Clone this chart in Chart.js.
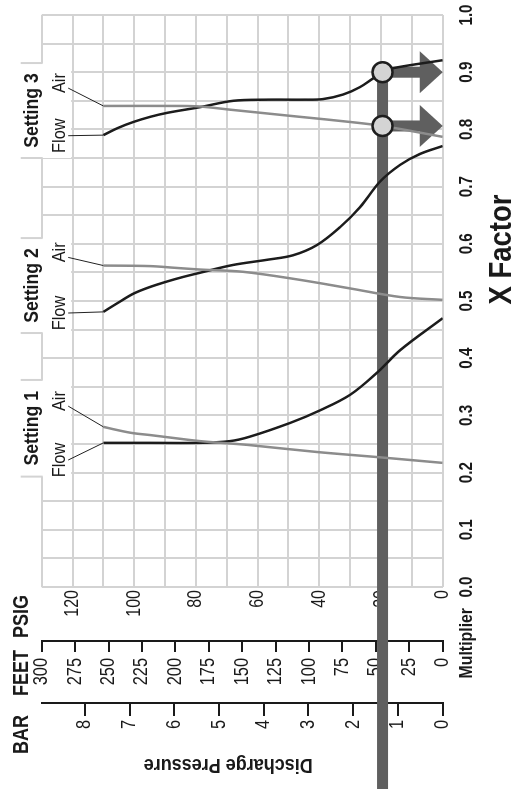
<!DOCTYPE html>
<html><head><meta charset="utf-8">
<script src="https://cdn.jsdelivr.net/npm/chart.js@4/dist/chart.umd.min.js"></script>
<style>
html,body{margin:0;padding:0;background:#fff;overflow:hidden;width:514px;height:789px;}
#wrap{position:absolute;left:0;top:0;width:789px;height:514px;transform-origin:0 0;transform:translateY(789px) rotate(-90deg);}
canvas{display:block;}
</style></head><body>
<div id="wrap"><canvas id="c" width="789" height="514"></canvas></div>
<script>
// ---------- data (X Factor vs discharge pressure in PSIG) ----------
const s1FlowPsi = [110, 95, 79, 69, 62.4, 49.4, 39.7, 30, 21, 13.8, 0];
const s1FlowX   = [0.252, 0.252, 0.252, 0.255, 0.263, 0.287, 0.309, 0.336, 0.376, 0.414, 0.470];
const s1AirPsi  = [110, 105.6, 100.4, 94.9, 89.4, 78.6, 67.9, 62.4, 40.7, 20.9, 0];
const s1AirX    = [0.280, 0.2745, 0.269, 0.2657, 0.262, 0.255, 0.2505, 0.248, 0.236, 0.227, 0.217];

const s2FlowPsi = [110, 105.2, 100.2, 94.9, 89.4, 84.2, 78.6, 68.0, 57.0, 48.5, 40.7, 33.3, 26.8, 20.3, 13.8, 7.4, 0];
const s2FlowX   = [0.481, 0.497, 0.513, 0.5245, 0.534, 0.542, 0.5495, 0.563, 0.572, 0.580, 0.598, 0.629, 0.664, 0.709, 0.738, 0.757, 0.771];
const s2AirPsi  = [110, 94.8, 86.7, 78.6, 64.6, 46.3, 30.0, 13.8, 0];
const s2AirX    = [0.562, 0.561, 0.558, 0.555, 0.551, 0.537, 0.522, 0.507, 0.502];

const s3FlowPsi = [110, 105.5, 100.3, 94.8, 89.3, 78.6, 67.9, 56.9, 45, 38.8, 32.3, 26.8, 22.6, 19.5, 16.1, 0];
const s3FlowX   = [0.790, 0.802, 0.813, 0.822, 0.829, 0.839, 0.850, 0.852, 0.852, 0.853, 0.861, 0.874, 0.889, 0.900, 0.907, 0.921];
const s3AirPsi  = [110, 85.1, 78.6, 68.0, 46.3, 30.0, 19.5, 0];
const s3AirX    = [0.841, 0.841, 0.840, 0.834, 0.822, 0.813, 0.806, 0.787];

// reading example: 45 ft / 19.5 psig, read X factor of Setting 3 Air and Flow
const readPsi = 19.5;
const readX   = [0.806, 0.900];

// tick labels
const xTickLabels = ['0.0','0.1','0.2','0.3','0.4','0.5','0.6','0.7','0.8','0.9','1.0'];
const psigTicks = [0, 20, 40, 60, 80, 100, 120];
const feetTicks = [0, 25, 50, 75, 100, 125, 150, 175, 200, 225, 250, 275, 300];
const barTicks  = [0, 1, 2, 3, 4, 5, 6, 7, 8];

// annotation labels
const settingNames = ['Setting 1', 'Setting 2', 'Setting 3'];
const settingTabs  = [[0.193, 0.362], [0.444, 0.610], [0.750, 0.916]];
const flowLabelX   = [0.222, 0.479, 0.789];
const airLabelX    = [0.325, 0.585, 0.881];

// ---------- styles ----------
const SANS = "'Liberation Sans', Arial, sans-serif";
const GRID = '#d3d3d3';
const INK = '#1a1a1a';
const FLOW_C = '#1c1c1c';
const AIR_C = '#8c8c8c';
const BAR_C = '#5f5f5f';
Chart.defaults.font.family = SANS;
Chart.defaults.color = INK;

// condensed text (Helvetica-Condensed look): Liberation Sans squeezed horizontally
function txt(ctx, s, x, y, o) {
  ctx.save();
  ctx.translate(x, y);
  if (o.rot) ctx.rotate(o.rot);
  ctx.scale(o.sx || 0.82, 1);
  ctx.font = (o.bold ? 'bold ' : '') + o.size + 'px ' + SANS;
  ctx.textAlign = o.align || 'center';
  ctx.textBaseline = o.base || 'alphabetic';
  ctx.fillStyle = o.color || INK;
  ctx.fillText(s, 0, 0);
  ctx.restore();
}

const zip = (xs, ys) => xs.map((x, i) => ({x: x, y: ys[i]}));
const flows = [[s1FlowX, s1FlowPsi], [s2FlowX, s2FlowPsi], [s3FlowX, s3FlowPsi]];
const airs  = [[s1AirX, s1AirPsi], [s2AirX, s2AirPsi], [s3AirX, s3AirPsi]];

function ds(label, xs, ys, color) {
  return {label, data: zip(xs, ys), showLine: true, borderColor: color, backgroundColor: color,
          borderWidth: 2.5, pointRadius: 0, tension: 0.35, fill: false};
}
const datasets = [];
airs.forEach((a, i) => datasets.push(ds(settingNames[i] + ' Air', a[0], a[1], AIR_C)));
flows.forEach((f, i) => datasets.push(ds(settingNames[i] + ' Flow', f[0], f[1], FLOW_C)));

const decor = {
  id: 'decor',
  beforeDraw(c) {
    const ctx = c.ctx; ctx.save(); ctx.fillStyle = '#fff'; ctx.fillRect(0, 0, c.width, c.height); ctx.restore();
  },
  beforeDatasetsDraw(c) {
    const ctx = c.ctx, sc = c.scales, xs = sc.x, ys = sc.y, ca = c.chartArea;
    const X = v => xs.getPixelForValue(v), Y = v => ys.getPixelForValue(v);
    ctx.save();
    // tabs for setting labels
    const bandBottom = Y(120) - 1.4;
    settingTabs.forEach(([a, b]) => {
      const xa = X(a), xb = X(b);
      ctx.fillStyle = '#fff';
      ctx.fillRect(xa, ca.top - 3, xb - xa, bandBottom - (ca.top - 3));
      ctx.strokeStyle = GRID; ctx.lineWidth = 2;
      [xa, xb].forEach(x => { ctx.beginPath(); ctx.moveTo(x, ca.top - 21); ctx.lineTo(x, ca.top + 1); ctx.stroke(); });
    });
    // tick labels from the scales
    xs.ticks.forEach((t, i) => {
      if (i % 2 === 0) txt(ctx, xTickLabels[i / 2], X(t.value), xs.top + 29, {size: 19, bold: true, sx: 0.8});
    });
    ys.ticks.forEach(t => {
      if (psigTicks.includes(t.value)) txt(ctx, String(t.value), ys.right - 3, Y(t.value), {size: 20, sx: 0.8, align: 'right', base: 'middle'});
    });
    sc.feet.ticks.forEach(t => {
      if (feetTicks.includes(t.value)) txt(ctx, String(t.value), sc.feet.right - 17, sc.feet.getPixelForValue(t.value), {size: 20, sx: 0.82, align: 'right', base: 'middle'});
    });
    sc.bar.ticks.forEach(t => {
      if (barTicks.includes(t.value)) txt(ctx, String(t.value), sc.bar.right - 17, sc.bar.getPixelForValue(t.value), {size: 20, sx: 0.82, align: 'right', base: 'middle'});
    });
    // axis headers and titles
    txt(ctx, 'PSIG', ys.right - 8, ca.top - 14, {size: 22, bold: true, align: 'right'});
    txt(ctx, 'FEET', sc.feet.right - 9, ca.top - 14, {size: 22, bold: true, align: 'right'});
    txt(ctx, 'BAR', sc.bar.right - 12, ca.top - 14, {size: 22, bold: true, align: 'right'});
    txt(ctx, 'Multiplier', X(0) - 21, xs.top + 29, {size: 18, bold: true, sx: 0.88, align: 'right'});
    txt(ctx, 'X Factor', X(0.59), xs.top + 68, {size: 32, bold: true, sx: 0.86});
    txt(ctx, 'Discharge Pressure', sc.bar.left + 30, (ca.top + ca.bottom) / 2 - 14, {size: 20, bold: true, sx: 0.9, rot: -Math.PI / 2});
    // reading bar and arrows
    const yr = Y(readPsi), y0 = Y(0);
    ctx.fillStyle = BAR_C;
    ctx.fillRect(0, yr - 5.5, X(Math.max(...readX)), 11);
    readX.forEach(rx => {
      const x = X(rx);
      ctx.fillRect(x - 5.5, yr, 11, (y0 - 23) - yr + 0.5);
      ctx.beginPath(); ctx.moveTo(x - 21, y0 - 23); ctx.lineTo(x + 21, y0 - 23); ctx.lineTo(x, y0); ctx.closePath(); ctx.fill();
    });
    ctx.restore();
  },
  afterDatasetsDraw(c) {
    const ctx = c.ctx, xs = c.scales.x, ys = c.scales.y, ca = c.chartArea;
    const X = v => xs.getPixelForValue(v), Y = v => ys.getPixelForValue(v);
    ctx.save();
    // reading circles
    readX.forEach(rx => {
      ctx.beginPath(); ctx.arc(X(rx), Y(readPsi), 10, 0, Math.PI * 2);
      ctx.fillStyle = '#d4d4d4'; ctx.fill();
      ctx.lineWidth = 2.5; ctx.strokeStyle = '#1e1e1e'; ctx.stroke();
    });
    // setting labels, flow/air labels and leaders
    settingNames.forEach((name, i) => {
      const [a, b] = settingTabs[i];
      txt(ctx, name, (X(a) + X(b)) / 2, ca.top - 4, {size: 21, bold: true, sx: 0.84});
      const fx = X(flowLabelX[i]), axp = X(airLabelX[i]);
      txt(ctx, 'Flow', fx, ca.top + 23, {size: 19, sx: 0.86});
      txt(ctx, 'Air', axp, ca.top + 23, {size: 19, sx: 0.86});
      ctx.strokeStyle = '#222'; ctx.lineWidth = 1;
      ctx.beginPath(); ctx.moveTo(fx, ca.top + 26.5); ctx.lineTo(X(flows[i][0][0]), Y(flows[i][1][0])); ctx.stroke();
      ctx.beginPath(); ctx.moveTo(axp - 5, ca.top + 26.5); ctx.lineTo(X(airs[i][0][0]), Y(airs[i][1][0])); ctx.stroke();
    });
    ctx.restore();
  }
};

let pad = {left: 0, top: 42, right: 15, bottom: 0};
const chart = new Chart(document.getElementById('c'), {
  type: 'scatter',
  data: {datasets},
  plugins: [decor],
  options: {
    responsive: false, animation: false, devicePixelRatio: 1,
    layout: {padding: pad},
    plugins: {legend: {display: false}, tooltip: {enabled: false}},
    scales: {
      x: {type: 'linear', position: 'bottom', min: 0, max: 1,
          ticks: {stepSize: 0.05, autoSkip: false, display: false},
          grid: {color: GRID, lineWidth: 2, drawTicks: false},
          border: {display: false},
          afterFit: s => { s.height = 71; }},
      y: {type: 'linear', position: 'left', weight: 0, min: 0, max: 130,
          ticks: {stepSize: 10, autoSkip: false, display: false},
          grid: {color: GRID, lineWidth: 2, drawTicks: false},
          border: {display: false},
          afterFit: s => { s.width = 54; }},
      feet: {type: 'linear', position: 'left', weight: 1, min: 0, max: 300,
          ticks: {stepSize: 25, autoSkip: false, display: false},
          grid: {display: true, drawOnChartArea: false, drawTicks: true, tickLength: 11, color: INK, lineWidth: 2},
          border: {display: true, color: INK, width: 2},
          afterFit: s => { s.width = 62; }},
      bar: {type: 'linear', position: 'left', weight: 2, min: 0, max: 130 / 14.5038,
          ticks: {stepSize: 1, includeBounds: false, autoSkip: false, display: false},
          grid: {display: true, drawOnChartArea: false, drawTicks: true, tickLength: 13, color: INK, lineWidth: 2},
          border: {display: true, color: INK, width: 2},
          afterFit: s => { s.width = 86; }}
    }
  }
});
// calibrate the plot area to the reference frame
const target = {left: 202, top: 41.7, right: 774, bottom: 442.7};
const ca0 = chart.chartArea;
pad = {
  left: pad.left + (target.left - ca0.left),
  top: pad.top + (target.top - ca0.top),
  right: pad.right + (ca0.right - target.right),
  bottom: pad.bottom + (ca0.bottom - target.bottom)
};
chart.options.layout.padding = pad;
chart.update();
</script></body></html>
